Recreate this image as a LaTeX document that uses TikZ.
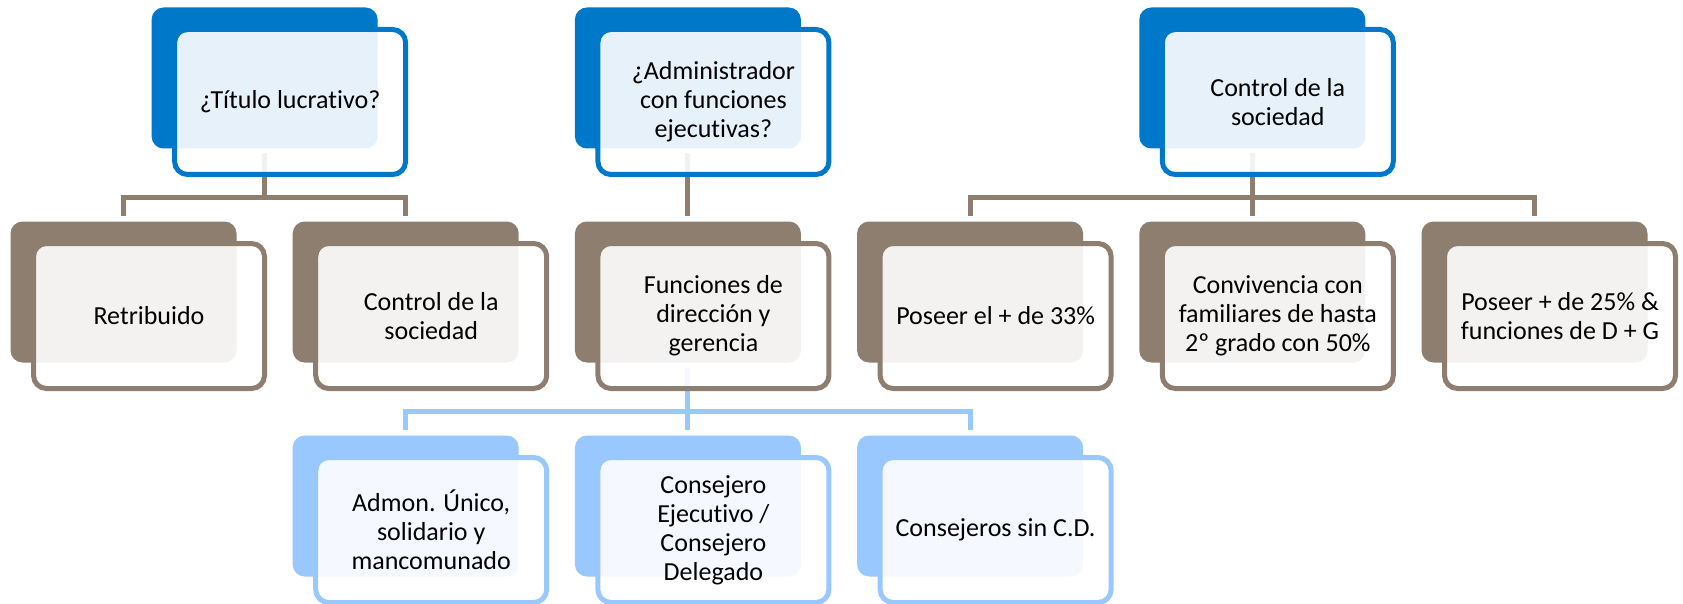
\documentclass[tikz,border=0pt]{standalone}
\usepackage{fontspec}
\setmainfont{Carlito}[Ligatures={NoCommon}]
\definecolor{dblue}{RGB}{0,120,201}
\definecolor{taupe}{RGB}{142,126,111}
\definecolor{lblue}{RGB}{153,200,255}
\tikzset{
  backbox/.style={rectangle, rounded corners=12pt, minimum width=226pt, minimum height=141pt,
    inner sep=0pt, outer sep=0pt, fill=#1},
  frontbox/.style={rectangle, rounded corners=13pt, minimum width=231pt, minimum height=145pt,
    inner sep=0pt, outer sep=0pt, draw=#1, line width=5pt, fill=white, fill opacity=0.9,
    text opacity=1, align=center, font=\fontsize{26}{29}\selectfont},
  conn/.style={draw=#1, line width=5pt, shorten <=5pt, shorten >=5.5pt},
}
\begin{document}
\begin{tikzpicture}[x=1pt,y=-1pt]
\useasboundingbox (0,0) rectangle (1683,604);
% back boxes
\node[backbox=dblue] (t1b) at (264.6,78) {};
\node[backbox=dblue] (t2b) at (687.9,78) {};
\node[backbox=dblue] (t3b) at (1252.3,78) {};
\node[backbox=taupe] (c0b) at (123.5,292) {};
\node[backbox=taupe] (c1b) at (405.7,292) {};
\node[backbox=taupe] (c2b) at (687.9,292) {};
\node[backbox=taupe] (c3b) at (970.1,292) {};
\node[backbox=taupe] (c4b) at (1252.3,292) {};
\node[backbox=taupe] (c5b) at (1534.5,292) {};
\node[backbox=lblue] (b1b) at (405.7,506) {};
\node[backbox=lblue] (b2b) at (687.9,506) {};
\node[backbox=lblue] (b3b) at (970.1,506) {};
% connectors
\draw[conn=taupe] (t1b.south) |- ([yshift=24pt]c0b.north) -- (c0b.north);
\draw[conn=taupe] (t1b.south) |- ([yshift=24pt]c1b.north) -- (c1b.north);
\draw[conn=taupe] (t2b.south) -- (c2b.north);
\draw[conn=taupe] (t3b.south) |- ([yshift=24pt]c3b.north) -- (c3b.north);
\draw[conn=taupe] (t3b.south) -- (c4b.north);
\draw[conn=taupe] (t3b.south) |- ([yshift=24pt]c5b.north) -- (c5b.north);
\draw[conn=lblue] (c2b.south) |- ([yshift=24pt]b1b.north) -- (b1b.north);
\draw[conn=lblue] (c2b.south) -- (b2b.north);
\draw[conn=lblue] (c2b.south) |- ([yshift=24pt]b3b.north) -- (b3b.north);
% front boxes
\node[frontbox=dblue] (t1) at (290.1,102) {¿Título lucrativo?};
\node[frontbox=dblue] (t2) at (713.4,102) {¿Administrador\\con funciones\\ejecutivas?};
\node[frontbox=dblue] (t3) at (1277.8,102) {Control de la\\sociedad};
\node[frontbox=taupe] (c0) at (149,316) {Retribuido};
\node[frontbox=taupe] (c1) at (431.2,316) {Control de la\\sociedad};
\node[frontbox=taupe] (c2) at (713.4,316) {Funciones de\\dirección y\\gerencia};
\node[frontbox=taupe] (c3) at (995.6,316) {Poseer el + de 33\%};
\node[frontbox=taupe] (c4) at (1277.8,316) {Convivencia con\\familiares de hasta\\2º grado con 50\%};
\node[frontbox=taupe] (c5) at (1560,316) {Poseer + de 25\% \&\\funciones de D + G};
\node[frontbox=lblue] (b1) at (431.2,530) {Admon. Único,\\solidario y\\mancomunado};
\node[frontbox=lblue] (b2) at (713.4,530) {Consejero\\Ejecutivo /\\Consejero\\Delegado};
\node[frontbox=lblue] (b3) at (995.6,530) {Consejeros sin C.D.};
\end{tikzpicture}
\end{document}
